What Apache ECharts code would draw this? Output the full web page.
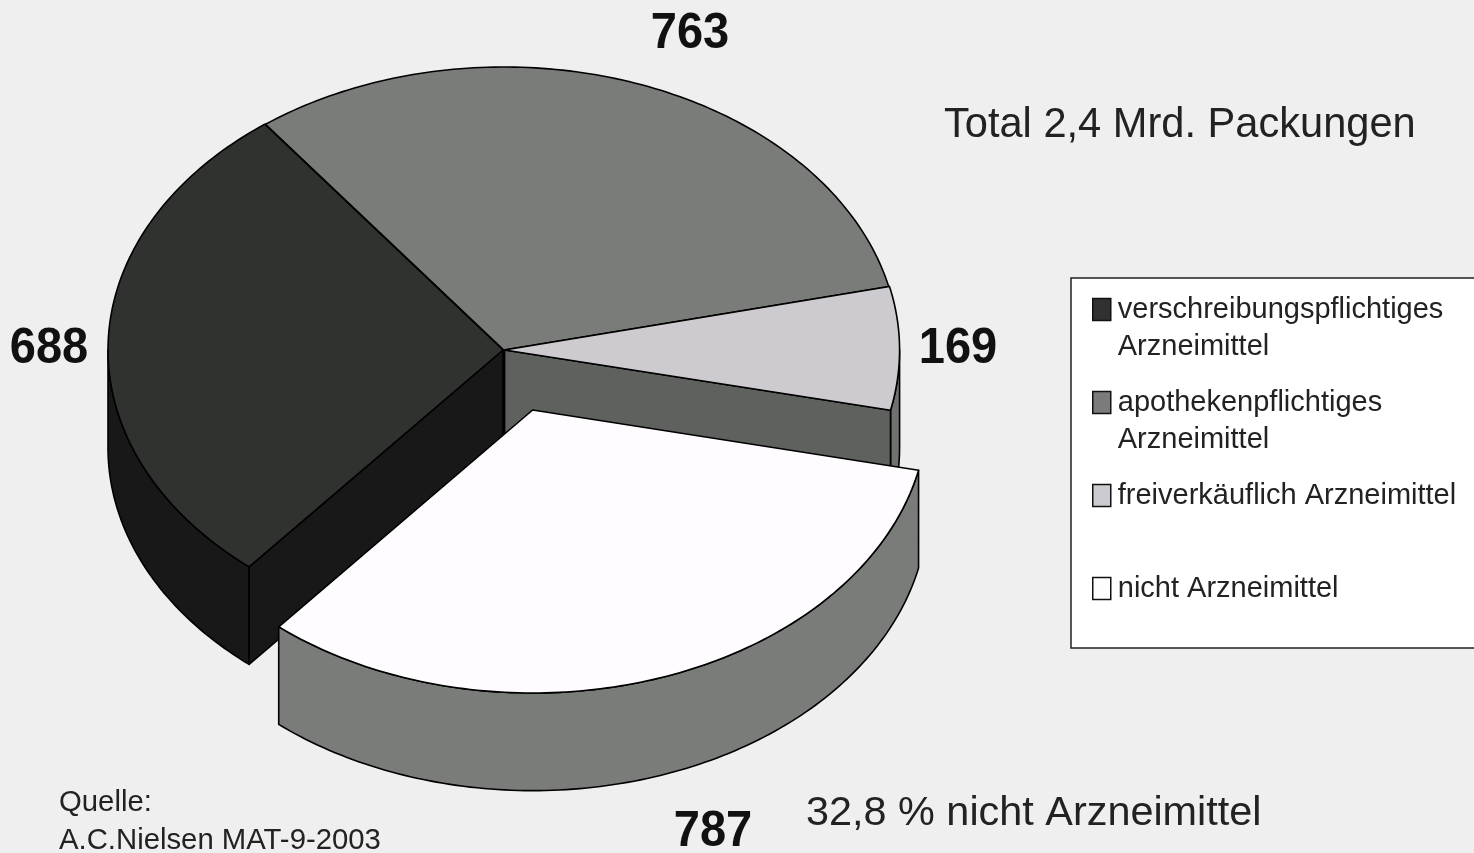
<!DOCTYPE html>
<html><head><meta charset="utf-8">
<style>html,body{margin:0;padding:0;background:#efefef}#c{width:1474px;height:853px}</style>
<script src="https://cdn.jsdelivr.net/npm/echarts@6/dist/echarts.min.js"></script></head>
<body><div id="c"></div>
<script>
const sliceNames = ['verschreibungspflichtiges\nArzneimittel','apothekenpflichtiges\nArzneimittel','freiverkäuflich Arzneimittel\n ','nicht Arzneimittel\n '];
const sliceValues = [688,763,169,787];
const topColors = ['#2f322e','#7a7c79','#cdcbcf','#fffcff'];
const wallColors = ['#181818','#5f615e','#5f615e','#7a7c79'];
const rimColors = ['#181818','#7a7c79','#70726f','#7a7c79'];
const offsetX = [0,0.002,0.004,0.075];
const offsetY = [0,0,0,-0.212];
const drawOrder = [1,0,2,3];
const firstAngle = 220, depth = 0.345;
const total = sliceValues.reduce((a,b)=>a+b,0);
const startAngles = sliceValues.map((v,i)=>firstAngle+sliceValues.slice(0,i).reduce((a,b)=>a+b,0)/total*360);

function renderSlice(idx){
  return function(params, api){
    const v = api.value(0);
    const a0 = startAngles[idx], a1 = a0 + v/total*360;
    const ox = offsetX[idx], oy = offsetY[idx];
    const P = (deg,r,d)=>{const t=deg*Math.PI/180;return api.coord([ox+r*Math.sin(t),oy+r*Math.cos(t)-(d||0)]);};
    const arc = (from,to,d)=>{const n=Math.max(2,Math.ceil(Math.abs(to-from)/1));const o=[];for(let i=0;i<=n;i++)o.push(P(from+(to-from)*i/n,1,d));return o;};
    const children = [];
    const stroke = {stroke:'#000',lineWidth:1.6,lineJoin:'round'};
    const poly = (pts,fill)=>children.push({type:'polygon',shape:{points:pts},style:Object.assign({fill},stroke)});
    [[90,270],[450,630]].forEach(([lo,hi])=>{
      const f=Math.max(a0,lo), t=Math.min(a1,hi);
      if(t>f) poly(arc(f,t,0).concat(arc(t,f,depth)),rimColors[idx]);
    });
    const wall = deg=>poly([P(deg,0,0),P(deg,1,0),P(deg,1,depth),P(deg,0,depth)],wallColors[idx]);
    if(Math.sin(a0*Math.PI/180)<0) wall(a0);
    if(Math.sin(a1*Math.PI/180)>0) wall(a1);
    poly([P(a0,0,0)].concat(arc(a0,a1,0)),topColors[idx]);
    return {type:'group',children};
  };
}
const font = 'Liberation Sans, Arial, sans-serif';
const numTxt = (val,x,y)=>({type:'text',x,y,scaleX:0.94,style:{text:String(val),font:'bold 50px '+font,fill:'#111',align:'center',verticalAlign:'middle'}});
const txt = (s,x,y,size)=>({type:'text',x,y,style:{text:s,font:size+'px '+font,fill:'#222',align:'left',verticalAlign:'middle'}});

const chart = echarts.init(document.getElementById('c'),null,{renderer:'canvas'});
chart.setOption({
  animation:false,
  backgroundColor:'#efefef',
  grid:{left:108,top:67,width:790,height:566},
  xAxis:{type:'value',min:-1,max:1,show:false},
  yAxis:{type:'value',min:-1,max:1,show:false},
  legend:{
    orient:'vertical',left:1092,top:252,padding:0,itemGap:-22,itemWidth:18,itemHeight:22,icon:'rect',
    selectedMode:false,
    data:sliceNames.map(n=>({name:n})),
    itemStyle:{borderColor:'#111',borderWidth:1.5},
    formatter:n=>'\n'+n,
    textStyle:{fontFamily:font,fontSize:29,lineHeight:37,color:'#222',padding:[4,0,0,2]}
  },
  graphic:[
    {type:'rect',z:0,shape:{x:1071,y:278,width:420,height:370},style:{fill:'#fff',stroke:'#222',lineWidth:1.5}},
    numTxt(sliceValues[1],690,34),
    numTxt(sliceValues[0],49,349),
    numTxt(sliceValues[2],958,349),
    numTxt(sliceValues[3],713,832),
    txt('Total 2,4 Mrd. Packungen',944,126,41.6),
    txt('32,8 % nicht Arzneimittel',806,814,41.4),
    txt('Quelle:',59,803,29.3),
    txt('A.C.Nielsen MAT-9-2003',59,841,29.3)
  ],
  series:drawOrder.map(i=>({
    type:'custom',name:sliceNames[i],coordinateSystem:'cartesian2d',
    renderItem:renderSlice(i),clip:false,silent:true,
    itemStyle:{color:topColors[i]},
    encode:{x:0,y:1},
    data:[[sliceValues[i],0]]
  }))
});
</script></body></html>
